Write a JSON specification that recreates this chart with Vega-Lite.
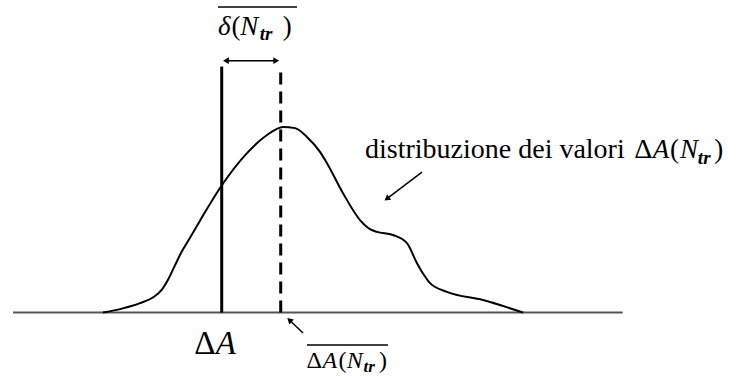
{
  "$schema": "https://vega.github.io/schema/vega-lite/v6.json",
  "width": 744,
  "height": 376,
  "padding": 0,
  "autosize": "none",
  "background": "white",
  "config": {"view": {"stroke": null}},
  "datasets": {
    "curve": [
      {"x": 13.84, "y": 0},
      {"x": 16.13, "y": 1.1},
      {"x": 18.82, "y": 3.0},
      {"x": 20.6, "y": 4.9},
      {"x": 21.7, "y": 7.2},
      {"x": 22.6, "y": 10.6},
      {"x": 23.5, "y": 15.0},
      {"x": 24.4, "y": 19.4},
      {"x": 25.4, "y": 23.4},
      {"x": 26.88, "y": 29.4},
      {"x": 29.84, "y": 40.8},
      {"x": 33.2, "y": 51.0},
      {"x": 35.89, "y": 56.8},
      {"x": 38.04, "y": 59.4},
      {"x": 39.65, "y": 59.0},
      {"x": 41.26, "y": 56.2},
      {"x": 43.01, "y": 51.4},
      {"x": 43.95, "y": 47.8},
      {"x": 46.1, "y": 38.2},
      {"x": 48.39, "y": 29.6},
      {"x": 49.73, "y": 26.7},
      {"x": 50.67, "y": 25.8},
      {"x": 52.82, "y": 24.8},
      {"x": 54.7, "y": 22.2},
      {"x": 56.05, "y": 15.8},
      {"x": 56.99, "y": 12.0},
      {"x": 57.8, "y": 9.4},
      {"x": 60.08, "y": 6.6},
      {"x": 64.92, "y": 4.0},
      {"x": 70.3, "y": 0}
    ]
  },
  "encoding": {
    "x": {"field": "x", "type": "quantitative", "scale": {"domain": [0, 100]}, "axis": null},
    "y": {"field": "y", "type": "quantitative", "scale": {"domain": [-20.3, 100]}, "axis": null}
  },
  "layer": [
    {
      "data": {"values": [{"x": 1.75, "y": 0, "x2": 83.7, "y2": 0}]},
      "mark": {"type": "rule", "color": "#555555", "strokeWidth": 2},
      "encoding": {"x2": {"field": "x2"}, "y2": {"field": "y2"}}
    },
    {
      "data": {"name": "curve"},
      "mark": {"type": "line", "color": "black", "strokeWidth": 2, "interpolate": "monotone"},
      "encoding": {}
    },
    {
      "data": {"values": [{"x": 29.8, "y": 0, "y2": 78.7}]},
      "mark": {"type": "rule", "color": "black", "strokeWidth": 3},
      "encoding": {"y2": {"field": "y2"}}
    },
    {
      "data": {"values": [{"x": 37.73, "y": 0, "y2": 78.7}]},
      "mark": {"type": "rule", "color": "black", "strokeWidth": 3, "strokeDash": [12, 7]},
      "encoding": {"y2": {"field": "y2"}}
    },
    {
      "data": {"values": [
        {"x": 30.3, "y": 80.6, "x2": 37.2, "y2": 80.6},
        {"x": 56.72, "y": 44.96, "x2": 52.1, "y2": 36.6},
        {"x": 40.73, "y": -6.56, "x2": 39.0, "y2": -2.6},
        {"x": 29.3, "y": 97.76, "x2": 39.92, "y2": 97.76},
        {"x": 41.26, "y": -10.38, "x2": 52.15, "y2": -10.38}
      ]},
      "mark": {"type": "rule", "color": "black", "strokeWidth": 1.5},
      "encoding": {"x2": {"field": "x2"}, "y2": {"field": "y2"}}
    },
    {
      "data": {"values": [{"x": 30.5, "y": 80.6}]},
      "mark": {"type": "point", "shape": "triangle", "angle": 270, "filled": true, "color": "black", "size": 45, "opacity": 1}
    },
    {
      "data": {"values": [{"x": 37.0, "y": 80.6}]},
      "mark": {"type": "point", "shape": "triangle", "angle": 90, "filled": true, "color": "black", "size": 45, "opacity": 1}
    },
    {
      "data": {"values": [{"x": 52.1, "y": 36.6}]},
      "mark": {"type": "point", "shape": "triangle", "angle": 233, "filled": true, "color": "black", "size": 45, "opacity": 1}
    },
    {
      "data": {"values": [{"x": 39.0, "y": -2.6}]},
      "mark": {"type": "point", "shape": "triangle", "angle": 313, "filled": true, "color": "black", "size": 45, "opacity": 1}
    },
    {
      "data": {"values": [
        {"x": 49.06, "y": 49.45, "t": "distribuzione dei valori"},
        {"x": 85.25, "y": 49.45, "t": "Δ"}
      ]},
      "mark": {"type": "text", "align": "left", "baseline": "alphabetic", "fontSize": 28, "color": "black", "font": "Liberation Serif"},
      "encoding": {"text": {"field": "t"}}
    },
    {
      "data": {"values": [
        {"x": 90.05, "y": 49.45, "t": "("},
        {"x": 96.0, "y": 49.45, "t": ")"},
        {"x": 31.1, "y": 88.8, "t": "("},
        {"x": 38.0, "y": 88.8, "t": ")"}
      ]},
      "mark": {"type": "text", "align": "left", "baseline": "alphabetic", "fontSize": 27, "color": "black", "font": "Liberation Serif"},
      "encoding": {"text": {"field": "t"}}
    },
    {
      "data": {"values": [
        {"x": 87.75, "y": 49.45, "t": "A"},
        {"x": 91.4, "y": 49.45, "t": "N"},
        {"x": 29.3, "y": 88.8, "t": "δ"},
        {"x": 32.3, "y": 88.8, "t": "N"}
      ]},
      "mark": {"type": "text", "align": "left", "baseline": "alphabetic", "fontSize": 27, "fontStyle": "italic", "color": "black", "font": "Liberation Serif"},
      "encoding": {"text": {"field": "t"}}
    },
    {
      "data": {"values": [
        {"x": 93.8, "y": 47.53, "t": "tr"},
        {"x": 34.9, "y": 87.2, "t": "tr"}
      ]},
      "mark": {"type": "text", "align": "left", "baseline": "alphabetic", "fontSize": 19, "fontStyle": "italic", "fontWeight": "bold", "color": "black", "font": "Liberation Serif"},
      "encoding": {"text": {"field": "t"}}
    },
    {
      "data": {"values": [{"x": 26.1, "y": -13.3, "t": "Δ"}]},
      "mark": {"type": "text", "align": "left", "baseline": "alphabetic", "fontSize": 33, "color": "black", "font": "Liberation Serif"},
      "encoding": {"text": {"field": "t"}}
    },
    {
      "data": {"values": [{"x": 29.0, "y": -13.3, "t": "A"}]},
      "mark": {"type": "text", "align": "left", "baseline": "alphabetic", "fontSize": 33, "fontStyle": "italic", "color": "black", "font": "Liberation Serif"},
      "encoding": {"text": {"field": "t"}}
    },
    {
      "data": {"values": [
        {"x": 41.2, "y": -17.7, "t": "Δ"},
        {"x": 45.5, "y": -17.7, "t": "("},
        {"x": 50.94, "y": -17.7, "t": ")"}
      ]},
      "mark": {"type": "text", "align": "left", "baseline": "alphabetic", "fontSize": 24, "color": "black", "font": "Liberation Serif"},
      "encoding": {"text": {"field": "t"}}
    },
    {
      "data": {"values": [
        {"x": 43.35, "y": -17.7, "t": "A"},
        {"x": 46.6, "y": -17.7, "t": "N"}
      ]},
      "mark": {"type": "text", "align": "left", "baseline": "alphabetic", "fontSize": 24, "fontStyle": "italic", "color": "black", "font": "Liberation Serif"},
      "encoding": {"text": {"field": "t"}}
    },
    {
      "data": {"values": [{"x": 48.85, "y": -19.0, "t": "tr"}]},
      "mark": {"type": "text", "align": "left", "baseline": "alphabetic", "fontSize": 17, "fontStyle": "italic", "fontWeight": "bold", "color": "black", "font": "Liberation Serif"},
      "encoding": {"text": {"field": "t"}}
    }
  ]
}
